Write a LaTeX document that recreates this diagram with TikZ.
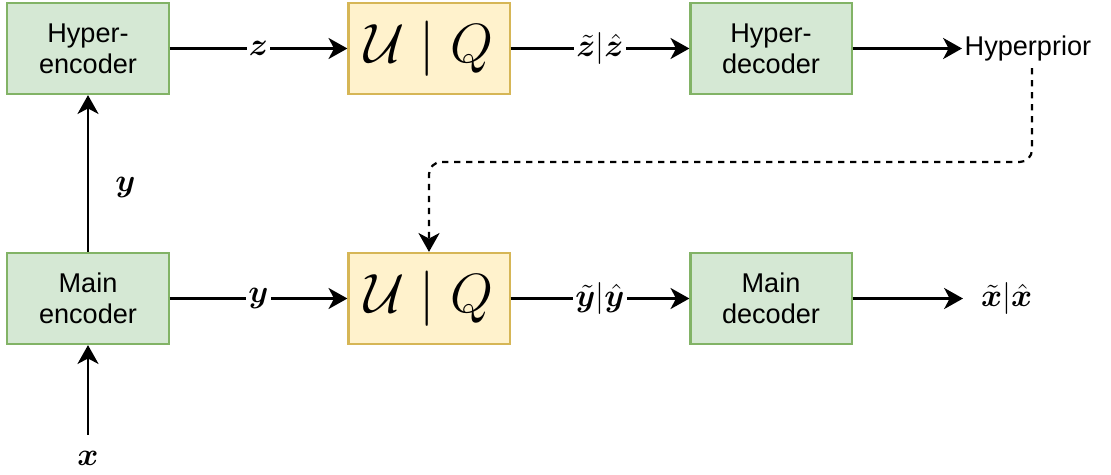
\documentclass[tikz,border=0pt]{standalone}
\usepackage{amsmath}
\usepackage{bm}
\usepackage{fontspec}
\setmainfont{Liberation Sans}
\usepackage{tikz}
\usetikzlibrary{arrows.meta}
\definecolor{boxgreen}{HTML}{D5E8D4}
\definecolor{linegreen}{HTML}{82B366}
\definecolor{boxyellow}{HTML}{FFF2CC}
\definecolor{lineyellow}{HTML}{D6B656}

\begin{document}
\begin{tikzpicture}[x=0.45pt, y=-0.45pt, font=\fontsize{12.2}{14}\selectfont,
        block/.style={draw=linegreen, fill=boxgreen, line width=0.95pt, minimum width=72.5pt, minimum height=41pt, align=center, inner sep=0pt},
        quant/.style={draw=lineyellow, fill=boxyellow, line width=0.95pt, minimum width=72.5pt, minimum height=41pt, inner sep=0pt, font=\fontsize{25}{30}\selectfont},
        flow/.style={-{Stealth[length=8.5pt, width=9.5pt, inset=2.5pt]}, line width=1pt},
        lbl/.style={fill=white, inner sep=1pt, font=\fontsize{15}{18}\selectfont}]
        \useasboundingbox (0,0) rectangle (1111,475);

        \node[block] (henc) at (88,48.5) {Hyper-\\encoder};
        \node[quant] (uqz) at (429,48.5) {$\mathcal{U}\mid Q$};
        \node[block] (hdec) at (771,48.5) {Hyper-\\decoder};
        \node[anchor=west, inner sep=1pt] (prior) at (962,48.5) {Hyperprior};

        \node[block] (menc) at (88,298.5) {Main\\encoder};
        \node[quant] (uqy) at (429,298.5) {$\mathcal{U}\mid Q$};
        \node[block] (mdec) at (771,298.5) {Main\\decoder};
        \node[anchor=west, inner xsep=8pt, font=\fontsize{15}{18}\selectfont] (xout) at (963,298.5) {$\tilde{\bm{x}}|\hat{\bm{x}}$};

        \node[inner sep=7pt, font=\fontsize{15}{18}\selectfont] (xin) at (88,458) {$\bm{x}$};
        \coordinate (bend) at (1032,162);

        \draw[flow] (xin) -- (menc);
        \draw[flow] (menc) -- node[pos=0.41, right=8.5pt, font=\fontsize{15}{18}\selectfont] {$\bm{y}$} (henc);
        \draw[flow] (henc) -- node[lbl] {$\bm{z}$} (uqz);
        \draw[flow] (uqz) -- node[lbl] {$\tilde{\bm{z}}|\hat{\bm{z}}$} (hdec);
        \draw[flow] (hdec) -- (prior);
        \draw[flow] (menc) -- node[lbl] {$\bm{y}$} (uqy);
        \draw[flow] (uqy) -- node[lbl] {$\tilde{\bm{y}}|\hat{\bm{y}}$} (mdec);
        \draw[flow] (mdec) -- (xout);
        \draw[flow, dash pattern=on 2.8pt off 2.6pt, rounded corners=5.5pt, shorten <=2pt] (prior.south -| bend) -- (bend) -- (bend -| uqy.north) -- (uqy.north);
    \end{tikzpicture}
\end{document}
